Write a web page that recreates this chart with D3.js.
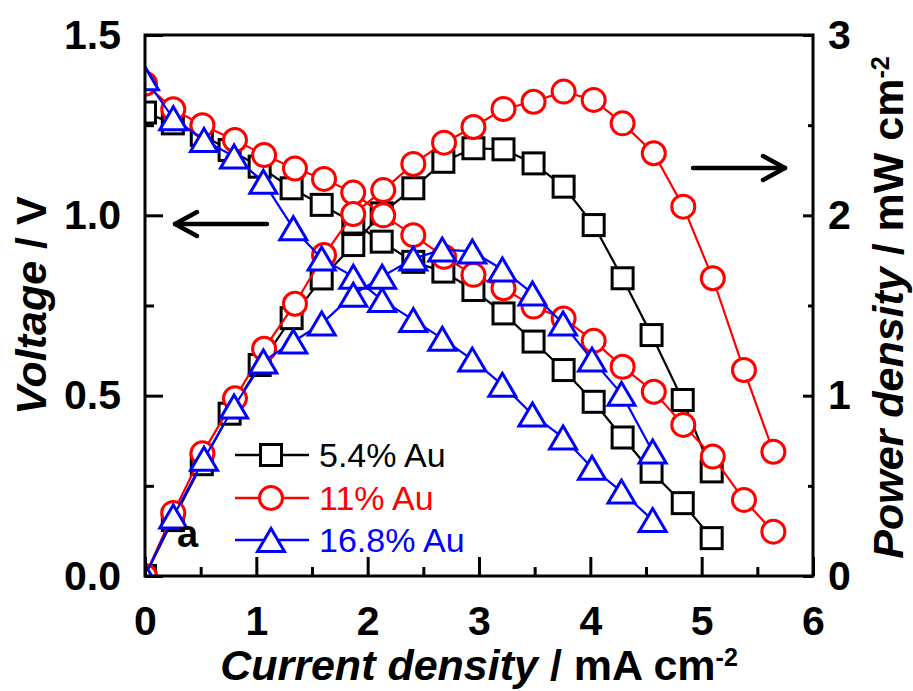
<!DOCTYPE html>
<html>
<head>
<meta charset="utf-8">
<script src="https://cdn.jsdelivr.net/npm/d3@7"></script>
<style>
  html, body { margin: 0; padding: 0; background: #fff; }
  svg { display: block; }
  text { font-family: "Liberation Sans", Arial, Helvetica, sans-serif; }
</style>
</head>
<body>
<svg id="chart" width="913" height="691"></svg>
<script>
// ---------------- data ----------------
const seriesNames = ["5.4% Au", "11% Au", "16.8% Au"];
const seriesColors = ["#000000", "#ff0000", "#0000ff"];
const seriesSymbols = ["square", "circle", "triangle"];

const currentBlack = [0, 0.25, 0.51, 0.76, 1.03, 1.317, 1.587, 1.871, 2.126, 2.41, 2.68, 2.95, 3.22, 3.49, 3.76, 4.03, 4.29, 4.55, 4.83, 5.09];
const voltageBlack = [1.285, 1.255, 1.223, 1.181, 1.135, 1.075, 1.029, 0.98, 0.927, 0.871, 0.844, 0.793, 0.728, 0.650, 0.571, 0.483, 0.384, 0.289, 0.202, 0.105];
const powerBlack   = [0, 0.31, 0.62, 0.90, 1.17, 1.43, 1.65, 1.835, 2.011, 2.15, 2.297, 2.372, 2.366, 2.288, 2.159, 1.946, 1.651, 1.336, 0.976, 0.58];

const currentRed = [0, 0.254, 0.516, 0.808, 1.07, 1.347, 1.608, 1.87, 2.14, 2.41, 2.686, 2.95, 3.22, 3.49, 3.76, 4.03, 4.29, 4.57, 4.835, 5.10, 5.38, 5.644];
const voltageRed = [1.365, 1.294, 1.250, 1.209, 1.167, 1.130, 1.101, 1.063, 1.000, 0.945, 0.885, 0.835, 0.798, 0.747, 0.714, 0.652, 0.580, 0.511, 0.419, 0.331, 0.211, 0.123];
const powerRed   = [0, 0.35, 0.68, 0.985, 1.26, 1.51, 1.78, 2.007, 2.14, 2.285, 2.403, 2.49, 2.59, 2.63, 2.686, 2.64, 2.51, 2.344, 2.048, 1.651, 1.142, 0.689];

const currentBlue = [0, 0.254, 0.53, 0.80, 1.063, 1.332, 1.587, 1.871, 2.13, 2.41, 2.67, 2.94, 3.21, 3.48, 3.755, 4.015, 4.28, 4.56];
const voltageBlue = [1.38, 1.269, 1.209, 1.163, 1.093, 0.964, 0.88, 0.83, 0.765, 0.71, 0.658, 0.60, 0.53, 0.448, 0.384, 0.30, 0.234, 0.155];
const powerBlue   = [0, 0.33, 0.65, 0.94, 1.19, 1.30, 1.40, 1.56, 1.66, 1.76, 1.81, 1.80, 1.70, 1.567, 1.40, 1.20, 1.01, 0.69];

const xTickValues = [0, 1, 2, 3, 4, 5, 6];
const xMinorValues = [0.5, 1.5, 2.5, 3.5, 4.5, 5.5];
const vTickValues = [0, 0.5, 1.0, 1.5];
const vMinorValues = [0.25, 0.75, 1.25];
const pTickValues = [0, 1, 2, 3];
const pMinorValues = [0.5, 1.5, 2.5];

// ---------------- layout ----------------
const svg = d3.select("#chart");
const L = 145, R = 813, T = 35, B = 576;
const x = d3.scaleLinear().domain([0, 6]).range([L, R]);
const yV = d3.scaleLinear().domain([0, 1.5]).range([B, T]);
const yP = d3.scaleLinear().domain([0, 3]).range([B, T]);

const tickFont = 41;

svg.append("defs").append("clipPath").attr("id", "plotclip")
  .append("rect").attr("x", L).attr("y", T).attr("width", R - L).attr("height", B - T);

// ---------------- data marks ----------------
const series = [
  { cur: currentBlack, v: voltageBlack, p: powerBlack },
  { cur: currentRed, v: voltageRed, p: powerRed },
  { cur: currentBlue, v: voltageBlue, p: powerBlue }
];

function drawMarker(g, type, cx, cy, color) {
  if (type === "square") {
    const s = 21;
    g.append("rect").attr("x", cx - s / 2).attr("y", cy - s / 2).attr("width", s).attr("height", s)
      .attr("fill", "#fff").attr("stroke", color).attr("stroke-width", 3);
  } else if (type === "circle") {
    g.append("circle").attr("cx", cx).attr("cy", cy).attr("r", 11.5)
      .attr("fill", "#fff").attr("stroke", color).attr("stroke-width", 3);
  } else {
    const s = 27, h = 23;
    g.append("path")
      .attr("d", `M${cx},${cy - h / 2}L${cx - s / 2},${cy + h / 2}L${cx + s / 2},${cy + h / 2}Z`)
      .attr("fill", "#fff").attr("stroke", color).attr("stroke-width", 3).attr("stroke-linejoin", "miter");
  }
}

const plot = svg.append("g").attr("clip-path", "url(#plotclip)");
series.forEach((s, i) => {
  const color = seriesColors[i];
  [[s.v, yV], [s.p, yP]].forEach(([vals, ys]) => {
    const pts = s.cur.map((c, k) => [c, vals[k]]);
    const g = plot.append("g");
    g.append("path")
      .attr("d", d3.line().x(d => x(d[0])).y(d => ys(d[1]))(pts))
      .attr("fill", "none").attr("stroke", color).attr("stroke-width", 2.2);
    pts.forEach(d => drawMarker(g, seriesSymbols[i], x(d[0]), ys(d[1]), color));
  });
});

// ---------------- axes ----------------
function styleAxis(g) {
  g.select(".domain").remove();
  g.selectAll("line").attr("stroke", "#000").attr("stroke-width", 3);
  g.selectAll("text").attr("font-size", tickFont).attr("font-weight", "bold")
    .attr("fill", "#000").attr("font-family", "'Liberation Sans', Arial, sans-serif");
}

// bottom
svg.append("g").attr("transform", `translate(0,${B})`)
  .call(d3.axisBottom(x).tickValues(xTickValues).tickFormat(d3.format("d")).tickSizeInner(-19).tickSizeOuter(0).tickPadding(30))
  .call(styleAxis);
svg.append("g").attr("transform", `translate(0,${B})`)
  .call(d3.axisBottom(x).tickValues(xMinorValues).tickFormat("").tickSizeInner(-9).tickSizeOuter(0))
  .call(styleAxis);

// left
svg.append("g").attr("transform", `translate(${L},0)`)
  .call(d3.axisLeft(yV).tickValues(vTickValues).tickFormat(d3.format(".1f")).tickSizeInner(-18).tickSizeOuter(0).tickPadding(24))
  .call(styleAxis);
svg.append("g").attr("transform", `translate(${L},0)`)
  .call(d3.axisLeft(yV).tickValues(vMinorValues).tickFormat("").tickSizeInner(-9).tickSizeOuter(0))
  .call(styleAxis);

// right
svg.append("g").attr("transform", `translate(${R},0)`)
  .call(d3.axisRight(yP).tickValues(pTickValues).tickFormat(d3.format("d")).tickSizeInner(-10).tickSizeOuter(0).tickPadding(15))
  .call(styleAxis);
svg.append("g").attr("transform", `translate(${R},0)`)
  .call(d3.axisRight(yP).tickValues(pMinorValues).tickFormat("").tickSizeInner(-5).tickSizeOuter(0))
  .call(styleAxis);

// frame
svg.append("rect").attr("x", L).attr("y", T).attr("width", R - L).attr("height", B - T)
  .attr("fill", "none").attr("stroke", "#000").attr("stroke-width", 3);

// ---------------- titles ----------------
const titleFont = 43;
const xt = svg.append("text").attr("x", (L + R) / 2).attr("y", 680)
  .attr("text-anchor", "middle").attr("font-size", titleFont).attr("font-weight", "bold");
xt.append("tspan").attr("font-style", "italic").text("Current density");
xt.append("tspan").text(" / mA cm");
xt.append("tspan").attr("font-size", 25).attr("dy", -14).text("-2");

const yt = svg.append("text").attr("transform", `translate(46,${(T + B) / 2}) rotate(-90)`)
  .attr("text-anchor", "middle").attr("font-size", titleFont).attr("font-weight", "bold");
yt.append("tspan").attr("font-style", "italic").text("Voltage");
yt.append("tspan").text(" / V");

const pt = svg.append("text").attr("transform", `translate(903,${(T + B) / 2 + 2}) rotate(-90)`)
  .attr("text-anchor", "middle").attr("font-size", titleFont).attr("font-weight", "bold");
pt.append("tspan").attr("font-style", "italic").text("Power density");
pt.append("tspan").text(" / mW cm");
pt.append("tspan").attr("font-size", 25).attr("dy", -14).text("-2");

// ---------------- arrows ----------------
function arrow(x1, x2, yy) {
  const dir = x2 > x1 ? 1 : -1;
  const g = svg.append("g").attr("stroke", "#000").attr("stroke-width", 4.5).attr("fill", "none")
    .attr("stroke-linecap", "round").attr("stroke-linejoin", "round");
  g.append("line").attr("x1", x1).attr("y1", yy).attr("x2", x2).attr("y2", yy);
  g.append("path").attr("d", `M${x2 - dir * 22},${yy - 12}L${x2},${yy}L${x2 - dir * 22},${yy + 12}`);
}
arrow(267, 175, 224);
arrow(693, 785, 168);

// ---------------- legend ----------------
const legendRows = [455, 498, 540];
seriesNames.forEach((name, i) => {
  const g = svg.append("g");
  const cy = legendRows[i];
  g.append("line").attr("x1", 235).attr("x2", 309).attr("y1", cy).attr("y2", cy)
    .attr("stroke", seriesColors[i]).attr("stroke-width", 2.5);
  drawMarker(g, seriesSymbols[i], 271, cy, seriesColors[i]);
  g.append("text").attr("x", 319).attr("y", cy + 12).attr("font-size", 34)
    .attr("fill", seriesColors[i]).text(name);
});

// panel label
svg.append("text").attr("x", 177).attr("y", 547).attr("font-size", 38).attr("font-weight", "bold").text("a");
</script>
</body>
</html>
